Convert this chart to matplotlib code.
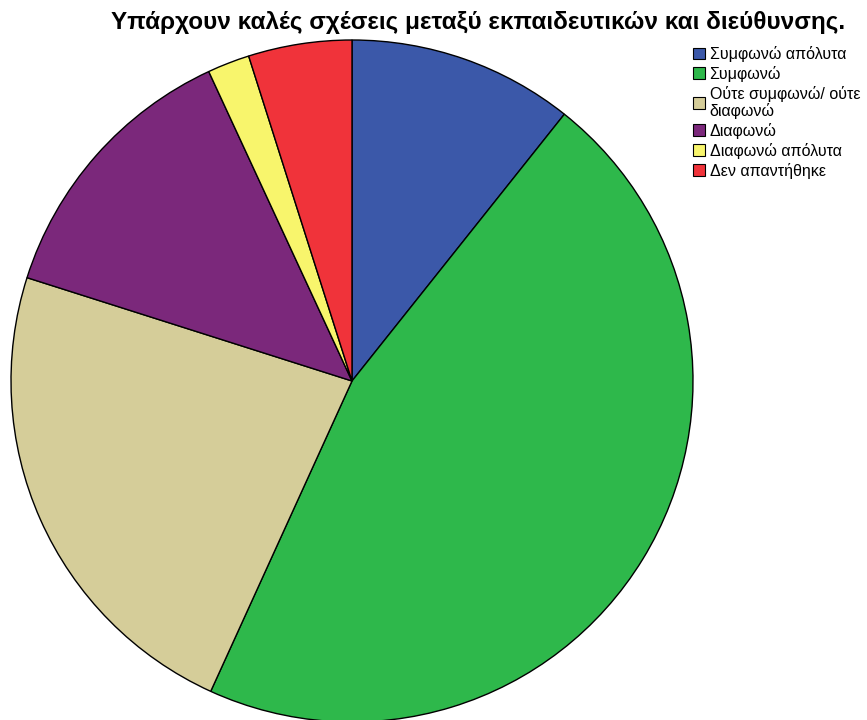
import matplotlib
matplotlib.use("Agg")
import matplotlib.pyplot as plt
from matplotlib.patches import Patch

# values (percent)
labels = ["Συμφωνώ απόλυτα", "Συμφωνώ", "Ούτε συμφωνώ/ ούτε\nδιαφωνώ",
          "Διαφωνώ", "Διαφωνώ απόλυτα", "Δεν απαντήθηκε"]
values = [10.7, 46.1, 23.1, 13.2, 2.0, 4.9]
colors = ["#3b58a9", "#2eb84b", "#d5cd99", "#7b287b", "#f8f56c", "#f0333a"]

plt.rcParams['font.family'] = ['Liberation Sans', 'DejaVu Sans']

fig = plt.figure(figsize=(8.67, 7.2), dpi=100)
# pie axes: centre (352,381) px, radius ~341 px
cx, cy, r = 352, 381, 341
ax = fig.add_axes([(cx - r) / 867, (720 - cy - r) / 720, 2 * r / 867, 2 * r / 720])
ax.pie(values, colors=colors, startangle=90, counterclock=False, radius=1,
       wedgeprops=dict(edgecolor="black", linewidth=1.0))
ax.set_xlim(-1.0, 1.0)
ax.set_ylim(-1.0, 1.0)
ax.set_aspect("equal")
ax.axis("off")

fig.text(0.551, 0.969, "Υπάρχουν καλές σχέσεις μεταξύ εκπαιδευτικών και διεύθυνσης.",
         ha="center", va="center", fontsize=17.5, fontweight="bold")

handles = [Patch(facecolor=c, edgecolor="black", linewidth=0.8) for c in colors]
leg = fig.legend(handles, labels, loc="upper left", bbox_to_anchor=(0.799, 0.936),
                 frameon=False, fontsize=11.5, handlelength=0.75, handleheight=0.75,
                 handletextpad=0.3, labelspacing=0.24, borderaxespad=0, borderpad=0)
for t in leg.get_texts():
    t.set_linespacing(1.1)

fig.savefig("out.png", dpi=100)
